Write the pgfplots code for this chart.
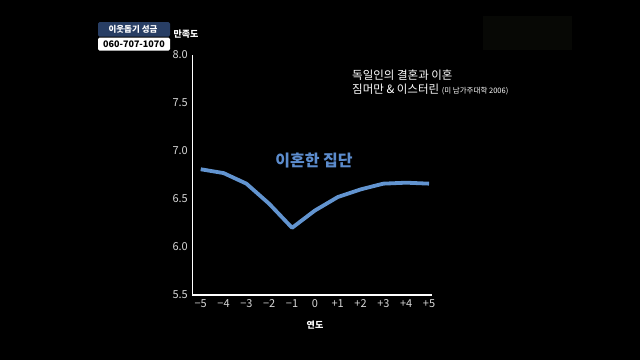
\documentclass[border=0pt]{standalone}
\usepackage{pgfplots}
\pgfplotsset{compat=1.18}
\usepackage{fontspec}
\setmainfont{Noto Sans CJK KR}
\definecolor{linecol}{RGB}{98,148,208}
\definecolor{labcol}{RGB}{92,140,205}
\definecolor{navy}{RGB}{40,62,100}
\definecolor{ticktext}{RGB}{215,215,215}
\begin{document}
\begin{tikzpicture}[x=1pt,y=1pt]
\fill[black] (0,0) rectangle (640,-360);
\path[use as bounding box] (0,0) rectangle (640,-360);
\fill[fill={rgb,255:red,7;green,8;blue,5}] (483,-16) rectangle (572,-50);
\begin{axis}[
  at={(192.3pt,-295pt)}, anchor=south west,
  scale only axis, width=239.7pt, height=240pt,
  xmin=-5.37, xmax=5.13, ymin=5.5, ymax=8.0,
  axis lines*=left,
  axis line style={white, line width=1.6pt},
  tick style={draw=none},
  xtick={-5,-4,-3,-2,-1,0,1,2,3,4,5},
  xticklabels={−5,−4,−3,−2,−1,0,+1,+2,+3,+4,+5},
  ytick={5.5,6,6.5,7,7.5,8},
  yticklabels={5.5,6.0,6.5,7.0,7.5,8.0},
  /pgf/number format/assume math mode=true,
  ticklabel style={font=\fontsize{11}{13}\selectfont, text=ticktext},
  xticklabel style={yshift=-1pt},
  yticklabel style={xshift=-1pt},
  clip=false,
]
\addplot[linecol, line width=3.8pt, line join=round] coordinates {
(-5,6.81) (-4,6.77) (-3,6.66) (-2,6.45) (-1,6.20) (0,6.38)
(1,6.52) (2,6.60) (3,6.66) (4,6.67) (5,6.66)};
\end{axis}
% top-left box
\fill[navy, rounded corners=1.5pt] (98,-22) rectangle (170,-36.5);
\node[text=white, font=\bfseries\fontsize{8.5}{10}\selectfont] at (133,-29) {이웃돕기 성금};
\fill[white, rounded corners=1.5pt] (98,-37.5) rectangle (170,-50.5);
\node[text=black, font=\bfseries\fontsize{9}{10}\selectfont] at (134,-44) {060-707-1070};
\node[text=white, font=\bfseries\fontsize{9}{10}\selectfont] at (186,-34) {만족도};
\node[text=white, font=\bfseries\fontsize{9}{10}\selectfont] at (315,-325) {연도};
\node[text=labcol, font=\bfseries\fontsize{16}{18}\selectfont] at (314,-161) {이혼한 집단};
\node[text=white, anchor=west, font=\fontsize{11.5}{13}\selectfont, inner sep=0pt] at (352,-75) {독일인의 결혼과 이혼};
\node[text=white, anchor=west, font=\fontsize{11.5}{13}\selectfont, inner sep=0pt] at (352,-89) {짐머만 \& 이스터린 {\fontsize{7.5}{8}\selectfont (미 남가주대학 2006)}};
\end{tikzpicture}
\end{document}
